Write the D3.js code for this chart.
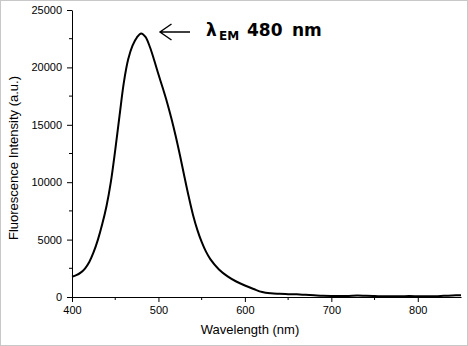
<!DOCTYPE html>
<html><head><meta charset="utf-8">
<script src="https://cdn.jsdelivr.net/npm/d3@7"></script>
<style>html,body{margin:0;padding:0;background:#fff;}</style>
</head><body>
<svg id="c" width="468" height="346"></svg>
<script>
const wavelengths = [400,405,410,415,420,425,430,435,440,445,450,455,460,465,470,475,480,485,490,495,500,505,510,515,520,525,530,535,540,545,550,555,560,570,580,590,600,610,620,630,640,650,660,670,680,690,700,710,720,730,740,750,760,770,780,790,800,810,820,830,840,850];
const intensity = [1770,1900,2120,2480,3050,3900,5000,6350,7950,10050,12800,15800,18700,20700,21900,22600,22950,22650,21800,20650,19400,18200,16950,15550,14000,12300,10500,8750,7150,5850,4800,3950,3300,2400,1800,1350,1000,700,430,320,280,250,230,190,150,110,90,80,90,120,100,80,70,60,60,80,70,60,70,100,130,160];
const xMajor = [400,500,600,700,800];
const xMinor = [450,550,650,750];
const yMajor = [0,5000,10000,15000,20000,25000];
const yMinor = [2500,7500,12500,17500,22500];
const xLabel = "Wavelength (nm)";
const yLabel = "Fluorescence Intensity (a.u.)";

const svg = d3.select("#c");
svg.append("rect").attr("x",0.5).attr("y",0.5).attr("width",467).attr("height",345)
  .attr("fill","#fff").attr("stroke","#c8c8c8");

const x = d3.scaleLinear().domain([400,850]).range([72,461]);
const y = d3.scaleLinear().domain([0,25000]).range([297,10]);

const font = "'Liberation Sans', Arial, sans-serif";

// x axis
const gx = svg.append("g").attr("transform","translate(0,297)");
gx.call(d3.axisBottom(x).tickValues(xMajor).tickSize(5).tickPadding(4).tickSizeOuter(0))
  .call(g=>g.selectAll("text").attr("font-family",font).attr("font-size",11).attr("fill","#000"));
gx.call(g=>g.select(".domain").attr("stroke","#000"));
gx.selectAll(".minor").data(xMinor).enter().append("line")
  .attr("x1",d=>x(d)).attr("x2",d=>x(d)).attr("y1",0).attr("y2",3).attr("stroke","#000");

// y axis
const gy = svg.append("g").attr("transform","translate(72,0)");
gy.call(d3.axisLeft(y).tickValues(yMajor).tickSize(5).tickPadding(5).tickSizeOuter(0).tickFormat(d3.format("d")))
  .call(g=>g.selectAll("text").attr("font-family",font).attr("font-size",11).attr("fill","#000"));
gy.call(g=>g.select(".domain").attr("stroke","#000"));
gy.selectAll(".minor").data(yMinor).enter().append("line")
  .attr("x1",0).attr("x2",-3).attr("y1",d=>y(d)).attr("y2",d=>y(d)).attr("stroke","#000");

// curve
const data = wavelengths.map((w,i)=>[w,intensity[i]]);
svg.append("path").datum(data)
  .attr("fill","none").attr("stroke","#000").attr("stroke-width",2)
  .attr("d", d3.line().x(d=>x(d[0])).y(d=>y(d[1])).curve(d3.curveCatmullRom.alpha(0.5)));

// axis titles
svg.append("text").attr("x",250).attr("y",334).attr("text-anchor","middle")
  .attr("font-family",font).attr("font-size",13).text(xLabel);
svg.append("text").attr("transform","translate(18,158) rotate(-90)").attr("text-anchor","middle")
  .attr("font-family",font).attr("font-size",13).text(yLabel);

// annotation arrow
const ax = 160, ay = 32;
svg.append("path").attr("d",`M${ax+30},${ay}H${ax} M${ax+11.5},${ay-8}L${ax},${ay}L${ax+11.5},${ay+8}`)
  .attr("fill","none").attr("stroke","#000").attr("stroke-width",1.4);
const af = "'DejaVu Sans', 'Noto Sans', sans-serif";
const ann = svg.append("g").attr("font-family",af).attr("font-weight","bold").attr("fill","#000");
ann.append("text").attr("x",206).attr("y",36).attr("font-size",17).text("λ");
ann.append("text").attr("x",219).attr("y",40).attr("font-size",12).text("EM");
ann.append("text").attr("x",247).attr("y",36).attr("font-size",17).text("480");
ann.append("text").attr("x",292).attr("y",36).attr("font-size",17).text("nm");
</script>
</body></html>
